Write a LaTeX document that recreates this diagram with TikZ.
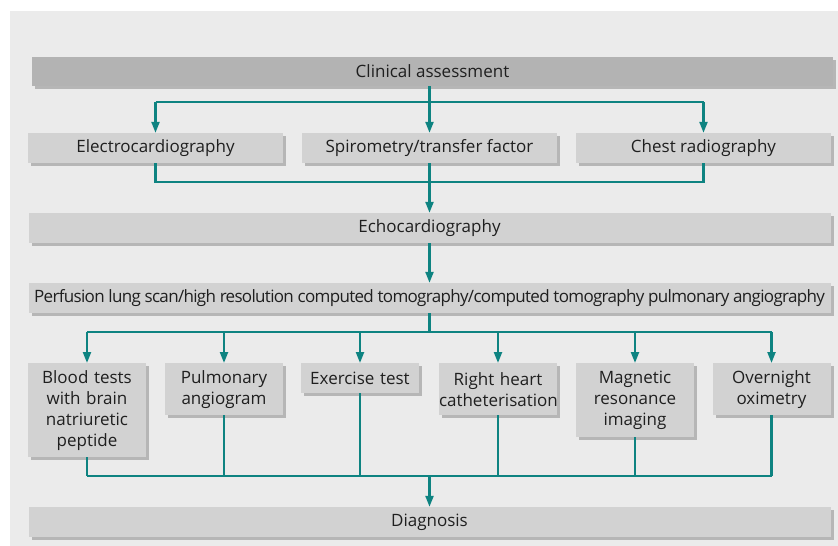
\documentclass[tikz,border=0pt]{standalone}
\usepackage{fontspec}
\setmainfont{Open Sans}
\usetikzlibrary{arrows.meta,shadows}

\definecolor{panelgrey}{HTML}{EBEBEB}
\definecolor{boxgrey}{HTML}{D2D2D2}
\definecolor{shadegrey}{HTML}{B6B6B6}
\definecolor{headgrey}{HTML}{B3B3B3}
\definecolor{flowteal}{HTML}{0E8381}

\tikzset{
  box/.style={fill=boxgrey,inner sep=0pt,align=center,text=black!88,
    font=\fontsize{17}{21}\selectfont,
    drop shadow={shadow xshift=3pt,shadow yshift=-3pt,fill=shadegrey,opacity=1}},
  widebox/.style={box,minimum width=802pt,minimum height=30pt},
  testbox/.style={box,anchor=north,minimum width=118pt,text width=118pt},
  flow/.style={draw=flowteal,line width=2.2pt},
}

\begin{document}
\begin{tikzpicture}[x=1pt,y=-1pt,>={Triangle[length=11pt,width=8pt]}]
\useasboundingbox (0,0) rectangle (838,546);
\fill[panelgrey] (10,11) rectangle (838,546);

\node[widebox,fill=headgrey,minimum width=801pt,minimum height=29pt] (ca) at (432.5,71.5) {Clinical assessment};

\node[box,minimum width=255pt,minimum height=30pt] (ecg) at (155.5,148) {Electrocardiography};
\node[box,minimum width=255pt,minimum height=30pt] (spi) at (429.5,148) {Spirometry/transfer factor};
\node[box,minimum width=255pt,minimum height=30pt] (cxr) at (703.5,148) {Chest radiography};

\node[widebox] (echo) at (429.5,228) {Echocardiography};
\node[widebox,font=\fontsize{17}{21}\selectfont\addfontfeature{LetterSpace=-4}] (perf) at (429.5,298) {Perfusion lung scan/high resolution computed tomography/computed tomography pulmonary angiography};

\node[testbox,minimum height=94pt] (bt) at (87,363) {Blood tests\\with brain\\natriuretic\\peptide};
\node[testbox,minimum height=52pt] (pa) at (224,363) {Pulmonary\\angiogram};
\node[testbox,minimum height=30pt] (ex) at (360,363) {Exercise test};
\node[testbox,minimum height=52pt] (rhc) at (498,363) {Right heart\\catheterisation};
\node[testbox,minimum height=74pt] (mri) at (635,363) {Magnetic\\resonance\\imaging};
\node[testbox,minimum height=52pt] (ox) at (771.5,363) {Overnight\\oximetry};

\node[widebox] (dx) at (429.5,522) {Diagnosis};

\coordinate (s1) at (429.5,102);
\coordinate (j1) at (429.5,182);
\coordinate (s2) at (429.5,332);
\coordinate (j2) at (429.5,476);

% clinical assessment to the three first tests
\draw[flow,->] (ca.south -| spi) -- (spi.north);
\draw[flow] (s1 -| ecg) -- (s1 -| cxr);
\draw[flow,->] (s1 -| ecg) -- (ecg.north);
\draw[flow,->] (s1 -| cxr) -- (cxr.north);

% first tests to echocardiography
\draw[flow] (ecg.south) -- (ecg |- j1) -- (cxr |- j1) -- (cxr.south);
\draw[flow,->] (spi.south) -- (echo.north);
\draw[flow,->] (echo.south) -- (perf.north);

% imaging to the further tests
\draw[flow] (perf.south) -- (s2);
\draw[flow] (s2 -| bt) -- (s2 -| ox);
\foreach \t in {bt,pa,ex,rhc,mri,ox}
  \draw[flow,->] (s2 -| \t) -- (\t.north);

% further tests to diagnosis
\foreach \t in {bt,pa,ex,rhc,mri,ox}
  \draw[flow] (\t.south) -- (\t |- j2);
\draw[flow] (bt |- j2) -- (ox |- j2);
\draw[flow,->] (j2) -- (dx.north);

\end{tikzpicture}
\end{document}
